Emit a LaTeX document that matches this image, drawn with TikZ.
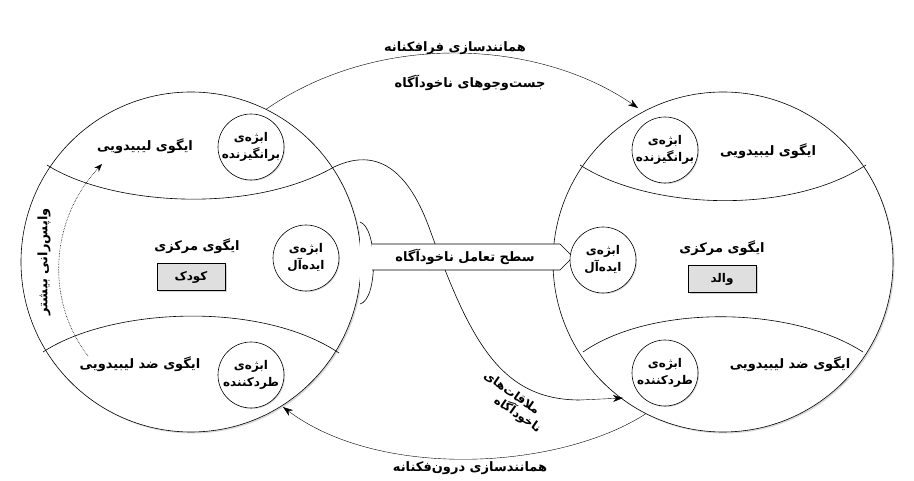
\documentclass[tikz,border=0pt]{standalone}
\usepackage{fontspec}
\newfontfamily\fa[Script=Arabic]{DejaVu Sans}
\TeXXeTstate=1
\usetikzlibrary{shadows,arrows.meta}
\newcommand{\R}[1]{{\fa\bfseries\beginR #1\endR}}
\tikzset{
 big/.style={draw,circle,minimum size=340pt,inner sep=0pt,fill=white,drop shadow={shadow xshift=1.5pt,shadow yshift=-1.5pt,fill=gray!60}},
 obj/.style={draw,circle,minimum size=66pt,inner sep=0pt,fill=white,align=center,font=\fontsize{12}{17}\selectfont,drop shadow={shadow xshift=1pt,shadow yshift=-1pt,fill=gray!60}},
 tag/.style={draw,fill=gray!25,minimum width=68pt,minimum height=27pt,font=\fontsize{12}{14}\selectfont,drop shadow={shadow xshift=1.5pt,shadow yshift=-1.5pt,fill=gray!70}},
 lab/.style={font=\fontsize{13}{17}\selectfont,align=center},
 arr/.style={-{Stealth[length=10pt,width=7pt]},thin},
}
\begin{document}
\begin{tikzpicture}[x=1pt,y=-1pt,line width=0.6pt]
\useasboundingbox (0,0) rectangle (914,481);
\draw[arr] (265,110) .. controls (380,30) and (540,40) .. (638,108);
\draw[arr] (647,413) .. controls (560,470) and (380,480) .. (283,407);
\node[big] (L) at (191,262) {};
\node[big] (Rc) at (723,262) {};
\draw (47,165) .. controls (110,205) and (250,215) .. (334,167) .. controls (370,150) and (405,160) .. (430,230) .. controls (470,340) and (500,400) .. (580,400);
\coordinate (m) at (623,398);
\draw[arr] (580,400) -- (m);
\draw (43,352) .. controls (110,308) and (260,300) .. (339,353);
\draw (580,165) .. controls (650,210) and (790,215) .. (866,165);
\draw (583,352) .. controls (650,305) and (790,305) .. (863,352);
% interface
\draw[fill=white] (360,222) .. controls (378,228) and (378,300) .. (360,304);
\fill[white] (372,244) rectangle (560,270);
\draw[fill=white] (372,244) -- (560,244) -- (573,257) -- (560,270) -- (372,270);
\node[lab] (band) at (465,257) {\R{سطح تعامل ناخودآگاه}};
\node[obj] (l1) at (251,147) {\R{ابژه‌ی}\\\R{برانگیزنده}};
\node[obj] (l2) at (306,258) {\R{ابژه‌ی}\\\R{ایده‌آل}};
\node[obj] (l3) at (251,375) {\R{ابژه‌ی}\\\R{طردکننده}};
\node[obj] (r1) at (665,150) {\R{ابژه‌ی}\\\R{برانگیزنده}};
\node[obj] (r2) at (603,260) {\R{ابژه‌ی}\\\R{ایده‌آل}};
\node[obj] (r3) at (665,373) {\R{ابژه‌ی}\\\R{طردکننده}};
\node[tag] (kid) at (191,277) {\R{کودک}};
\node[tag] (par) at (722,279) {\R{والد}};
\node[lab] at (145,146) {\R{ایگوی لیبیدویی}};
\node[lab] at (197,246) {\R{ایگوی مرکزی}};
\node[lab] at (140,364) {\R{ایگوی ضد لیبیدویی}};
\node[lab] at (768,151) {\R{ایگوی لیبیدویی}};
\node[lab] at (722,248) {\R{ایگوی مرکزی}};
\node[lab] at (790,364) {\R{ایگوی ضد لیبیدویی}};
\node[lab] at (455,48) {\R{همانندسازی فرافکنانه}};
\node[lab] at (470,83) {\R{جست‌وجوهای ناخودآگاه}};
\node[lab] at (470,468) {\R{همانندسازی درون‌فکنانه}};
\node[lab,rotate=90] at (44,262) {\R{واپس‌رانی بیشتر}};
\node[lab,rotate=-35,font=\fontsize{12}{14}\selectfont,inner sep=0pt] (mq1) at (512,393) {\R{ملاقات‌های}};
\node[lab,rotate=-35,font=\fontsize{12}{14}\selectfont,inner sep=0pt] (mq2) at (518,414) {\R{ناخودآگاه}};
\coordinate (d0) at (88,356);
\coordinate (d1) at (102,164);
\draw[-{Stealth[length=8pt,width=6pt]},densely dotted] (d0) .. controls (45,300) and (50,220) .. (d1);
\end{tikzpicture}
\end{document}
